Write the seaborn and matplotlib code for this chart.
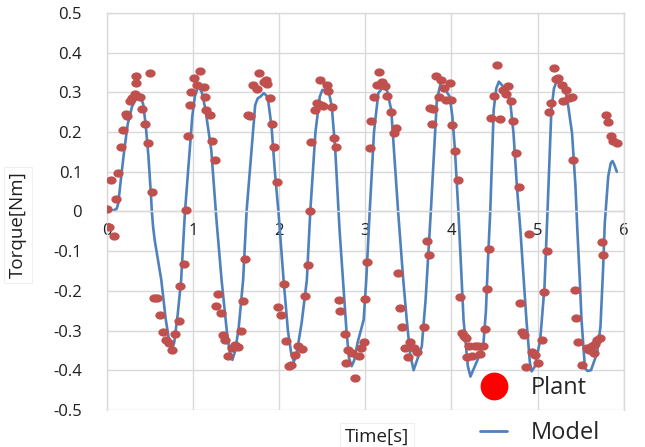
import numpy as np
import pandas as pd
import matplotlib
matplotlib.use("Agg")
import matplotlib.pyplot as plt
from matplotlib.lines import Line2D
import seaborn as sns

# measured plant torque (dots)
plant_time = [
    0.00, 0.05, 0.10, 0.13, 0.16, 0.19, 0.22, 0.23, 0.27, 0.29, 0.32, 0.34, 0.34, 0.50, 0.38, 0.41,
    0.44, 0.47, 0.52, 0.02, 0.08,
    0.54, 0.58, 0.61, 0.65, 0.68, 0.72, 0.75, 0.79, 0.83, 0.85, 0.89,
    0.92, 0.94, 0.96, 0.98, 1.01, 1.08, 1.05, 1.12, 1.14, 1.15, 1.19, 1.22, 1.25,
    1.29, 1.27, 1.32, 1.35, 1.37, 1.41, 1.45, 1.49, 1.52, 1.55, 1.58, 1.60,
    1.64, 1.66, 1.70, 1.74, 1.77, 1.82, 1.86, 1.84, 1.89, 1.91, 1.94, 1.97,
    1.99, 2.02, 2.05, 2.08, 2.11, 2.14, 2.18, 2.22, 2.26, 2.30, 2.33,
    2.36, 2.37, 2.41, 2.44, 2.47, 2.49, 2.51, 2.55, 2.57, 2.61, 2.63, 2.66,
    2.69, 2.71, 2.76, 2.80, 2.78, 2.84, 2.88, 2.92, 2.95, 2.98, 2.99, 3.02,
    3.05, 3.07, 3.10, 3.13, 3.16, 3.19, 3.23, 3.25, 3.30, 3.33, 3.36,
    3.38, 3.40, 3.43, 3.46, 3.49, 3.52, 3.56, 3.60, 3.68, 3.74, 3.71,
    3.75, 3.77, 3.79, 3.82, 3.85, 3.88, 3.91, 3.94, 3.98, 4.00, 4.01, 4.04, 4.08,
    4.10, 4.12, 4.14, 4.17, 4.20, 4.18, 4.24, 4.27, 4.31, 4.33, 4.37, 4.39, 4.41, 4.44,
    4.46, 4.49, 4.53, 4.56, 4.60, 4.63, 4.66, 4.69, 4.72, 4.75, 4.78,
    4.79, 4.82, 4.84, 4.87, 4.93, 4.97, 5.01, 5.05, 5.08, 5.11, 4.90,
    5.13, 5.16, 5.19, 5.21, 5.24, 5.28, 5.30, 5.33, 5.37, 5.40, 5.41,
    5.43, 5.45, 5.47, 5.52, 5.57, 5.60, 5.63, 5.65, 5.67, 5.69, 5.72, 5.76, 5.75,
    5.80, 5.82, 5.85, 5.88, 5.92,
]
plant_torque = [
    0.005, 0.079, 0.031, 0.098, 0.162, 0.205, 0.246, 0.240, 0.278, 0.285, 0.296, 0.323, 0.340, 0.350, 0.289, 0.257,
    0.220, 0.173, 0.050, -0.038, -0.062,
    -0.217, -0.217, -0.261, -0.304, -0.325, -0.332, -0.350, -0.309, -0.277, -0.189, -0.132,
    0.004, 0.190, 0.268, 0.300, 0.337, 0.355, 0.319, 0.313, 0.289, 0.256, 0.243, 0.178, 0.130,
    -0.208, -0.238, -0.257, -0.311, -0.325, -0.364, -0.345, -0.336, -0.342, -0.301, -0.225, -0.120,
    0.243, 0.240, 0.319, 0.308, 0.350, 0.327, 0.321, 0.331, 0.285, 0.220, 0.163, 0.074,
    -0.242, -0.262, -0.183, -0.326, -0.389, -0.387, -0.361, -0.340, -0.347, -0.213, -0.135,
    0.000, 0.175, 0.256, 0.272, 0.331, 0.268, 0.266, 0.319, 0.304, 0.264, 0.186, 0.162,
    -0.223, -0.251, -0.309, -0.349, -0.382, -0.357, -0.420, -0.364, -0.345, -0.330, -0.220, -0.128,
    0.161, 0.228, 0.288, 0.319, 0.352, 0.327, 0.316, 0.291, 0.251, 0.198, 0.211,
    -0.154, -0.244, -0.290, -0.345, -0.366, -0.328, -0.345, -0.353, -0.292, -0.111, -0.074,
    0.260, 0.220, 0.257, 0.341, 0.288, 0.331, 0.310, 0.281, 0.323, 0.281, 0.218, 0.152, 0.079,
    -0.215, -0.307, -0.314, -0.320, -0.339, -0.367, -0.364, -0.339, -0.339, -0.359, -0.339, -0.297, -0.195, -0.094,
    0.236, 0.292, 0.369, 0.232, 0.306, 0.296, 0.317, 0.279, 0.228, 0.148, 0.062,
    -0.231, -0.305, -0.311, -0.391, -0.353, -0.361, -0.381, -0.325, -0.204, -0.099, -0.057,
    0.250, 0.274, 0.361, 0.333, 0.336, 0.319, 0.277, 0.306, 0.287, 0.289, 0.130,
    -0.198, -0.269, -0.330, -0.388, -0.345, -0.350, -0.340, -0.356, -0.334, -0.324, -0.320, -0.111, -0.076,
    0.243, 0.226, 0.190, 0.178, 0.173,
]

# simulated model torque (line)
model_time = [
    0.00, 0.06, 0.11, 0.13, 0.16, 0.20, 0.24, 0.29, 0.33, 0.36, 0.39, 0.42, 0.45, 0.48, 0.51, 0.52,
    0.535, 0.555, 0.63, 0.68, 0.72, 0.75, 0.78, 0.82, 0.86, 0.905, 0.96, 0.99, 1.02, 1.05, 1.07,
    1.10, 1.14, 1.21, 1.27, 1.33, 1.39, 1.42, 1.455, 1.49, 1.53, 1.58, 1.62, 1.69, 1.72, 1.75,
    1.78, 1.82, 1.85, 1.87, 1.91, 1.95, 1.99, 2.05, 2.10, 2.14, 2.17, 2.20, 2.26, 2.32, 2.36,
    2.42, 2.47, 2.50, 2.57, 2.61, 2.65, 2.70, 2.74, 2.78, 2.81, 2.84, 2.87, 2.91, 2.98, 3.01,
    3.05, 3.10, 3.15, 3.20, 3.25, 3.30, 3.34, 3.38, 3.44, 3.48, 3.52, 3.56, 3.60, 3.655, 3.70,
    3.76, 3.83, 3.87, 3.93, 3.98, 4.01, 4.04, 4.08, 4.14, 4.19, 4.22, 4.30, 4.37, 4.40, 4.42,
    4.45, 4.49, 4.52, 4.55, 4.62, 4.68, 4.72, 4.76, 4.80, 4.87, 4.91, 4.93, 4.97, 5.03, 5.08,
    5.115, 5.16, 5.19, 5.22, 5.29, 5.34, 5.40, 5.44, 5.46, 5.49, 5.51, 5.55, 5.58, 5.62, 5.69,
    5.73, 5.76, 5.78, 5.82, 5.85, 5.87, 5.89, 5.92,
]
model_torque = [
    0.000, 0.002, 0.006, 0.020, 0.080, 0.155, 0.220, 0.264, 0.282, 0.289, 0.288, 0.270, 0.215, 0.140, 0.040, 0.000,
    -0.040, -0.075, -0.173, -0.270, -0.325, -0.350, -0.330, -0.260, -0.173, 0.000, 0.155, 0.240, 0.290, 0.310, 0.313,
    0.300, 0.260, 0.155, -0.020, -0.173, -0.300, -0.350, -0.374, -0.350, -0.290, -0.173, 0.000, 0.190, 0.268, 0.285,
    0.289, 0.298, 0.292, 0.281, 0.214, 0.097, 0.000, -0.173, -0.300, -0.360, -0.378, -0.360, -0.280, -0.173, 0.000,
    0.200, 0.289, 0.306, 0.306, 0.264, 0.155, -0.047, -0.173, -0.300, -0.370, -0.390, -0.375, -0.330, -0.273, -0.173,
    0.000, 0.200, 0.298, 0.312, 0.306, 0.256, 0.130, 0.000, -0.173, -0.273, -0.360, -0.400, -0.375, -0.340, -0.220,
    0.000, 0.281, 0.319, 0.306, 0.289, 0.239, 0.155, 0.000, -0.273, -0.390, -0.416, -0.375, -0.335, -0.250, -0.140,
    0.000, 0.256, 0.310, 0.327, 0.310, 0.281, 0.197, 0.062, -0.047, -0.273, -0.380, -0.403, -0.390, -0.324, -0.190,
    0.000, 0.256, 0.310, 0.327, 0.319, 0.289, 0.197, 0.062, -0.040, -0.173, -0.273, -0.395, -0.402, -0.400, -0.357,
    -0.290, -0.147, -0.030, 0.088, 0.122, 0.127, 0.118, 0.100,
]

x_ticks = [0, 1, 2, 3, 4, 5, 6]
x_tick_labels = ["0", "1", "2", "3", "4", "5", "6"]
y_ticks = [-0.5, -0.4, -0.3, -0.2, -0.1, 0, 0.1, 0.2, 0.3, 0.4, 0.5]
y_tick_labels = ["-0.5", "-0.4", "-0.3", "-0.2", "-0.1", "0", "0.1", "0.2", "0.3", "0.4", "0.5"]

plant = pd.DataFrame({"Time": plant_time, "Torque": plant_torque})
model = pd.DataFrame({"Time": model_time, "Torque": model_torque})

sns.set_theme(style="whitegrid")
plt.rcParams["font.family"] = ["Open Sans", "DejaVu Sans"]

grid_col = "#d9d9d9"
text_col = "#1f1f1f"
dot_col = "#c0504d"
line_col = "#4f81bd"

# slightly wide dot, like the stretched Excel markers
th = np.linspace(0, 2 * np.pi, 40)
ellipse = np.column_stack([1.25 * np.cos(th), np.sin(th)])

fig = plt.figure(figsize=(6.45, 4.47), dpi=100)
ax = fig.add_axes([0.166, 0.083, 0.801, 0.888])

sns.lineplot(data=model, x="Time", y="Torque", ax=ax, color=line_col, linewidth=1.9,
             sort=False, estimator=None, zorder=2)
sns.scatterplot(data=plant, x="Time", y="Torque", ax=ax, color=dot_col, marker=ellipse,
                s=55, linewidth=0, zorder=3)

ax.set_xlim(0, 6)
ax.set_ylim(-0.5, 0.5)
ax.set_xticks(x_ticks, x_tick_labels)
ax.set_yticks(y_ticks, y_tick_labels)
ax.grid(True, color=grid_col, linewidth=1.0)
for s in ax.spines.values():
    s.set_color(grid_col)
    s.set_linewidth(1.0)
ax.spines["bottom"].set_position(("data", 0))
ax.tick_params(axis="x", length=0, pad=8, labelsize=12, labelcolor=text_col)
ax.tick_params(axis="y", length=0, pad=18, labelsize=12, labelcolor=text_col)

box = dict(facecolor="white", edgecolor="#f0f0f0", linewidth=0.8, boxstyle="square,pad=0.25")
ax.set_xlabel("Time[s]", fontsize=13.5, color=text_col, bbox=box)
ax.set_ylabel("Torque[Nm]", fontsize=13.5, color=text_col, bbox=box)
ax.xaxis.set_label_coords(0.522, -0.045)
ax.yaxis.set_label_coords(-0.155, 0.466)

handles = [
    Line2D([], [], marker="o", linestyle="", markersize=19, color="#ff0000"),
    Line2D([], [], color=line_col, linewidth=2.0),
]
ax.legend(handles, ["Plant", "Model"], loc="upper left", bbox_to_anchor=(480 / 645, 1 - 376 / 447),
          bbox_transform=fig.transFigure, frameon=False, fontsize=17, handlelength=1.15,
          handletextpad=1.0, labelspacing=0.9, borderpad=0, borderaxespad=0)

fig.savefig("out.png", dpi=100)
